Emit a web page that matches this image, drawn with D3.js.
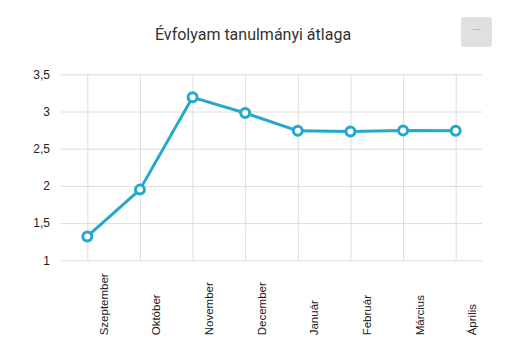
<!DOCTYPE html>
<html><head><meta charset="utf-8">
<script src="https://cdn.jsdelivr.net/npm/d3@7"></script>
<style>body{margin:0;background:#fff}svg{display:block;font-family:Roboto,"Noto Sans",sans-serif}</style>
</head><body><svg id="c" width="506" height="358"></svg>
<script>
const categories = ["Szeptember","Október","November","December","Január","Február","Március","Április"];
const values = [1.32, 1.95, 3.19, 2.98, 2.74, 2.73, 2.745, 2.74];
const yTicks = [1, 1.5, 2, 2.5, 3, 3.5];
const yTickLabels = ["1","1,5","2","2,5","3","3,5"];
const title = "Évfolyam tanulmányi átlaga";

const svg = d3.select("#c");
const L = 61, R = 482, T = 74.3, B = 260.3;
const x = d3.scalePoint().domain(categories).range([L, R]).padding(0.5);
const y = d3.scaleLinear().domain([1, 3.5]).range([B, T]);

svg.append("text").attr("x", 253).attr("y", 40).attr("text-anchor", "middle")
  .attr("font-size", 16).attr("fill", "#333").text(title);

const btn = svg.append("g");
btn.append("rect").attr("x", 461).attr("y", 17).attr("width", 31).attr("height", 30).attr("rx", 3).attr("fill", "#e0e0e0");
btn.append("text").attr("x", 476.5).attr("y", 34).attr("text-anchor", "middle").attr("font-size", 10).attr("fill", "#888").text("···");

const tickFont = "'Liberation Sans',Arial,sans-serif";
const yAxis = svg.append("g").attr("transform", `translate(${L},0)`)
  .call(d3.axisLeft(y).tickValues(yTicks).tickFormat((d,i) => yTickLabels[i]).tickSize(-(R - L)).tickPadding(11));
yAxis.select(".domain").remove();
yAxis.selectAll("line").attr("stroke", "#dcdcdc");
yAxis.selectAll("text").attr("font-size", 12).attr("fill", "#222").attr("font-family", tickFont);

const xAxis = svg.append("g").attr("transform", `translate(0,${B})`)
  .call(d3.axisBottom(x).tickSize(-(B - T)));
xAxis.select(".domain").remove();
xAxis.selectAll("line").attr("stroke", "#dcdcdc");
xAxis.selectAll("text").attr("font-size", 11.5).attr("fill", "#222").attr("font-family", tickFont)
  .attr("text-anchor", "start").attr("transform", "translate(20,0) rotate(-90)")
  .attr("x", -75).attr("y", 0).attr("dy", "0");

const line = d3.line().x((d,i) => x(categories[i])).y(d => y(d));
svg.append("path").datum(values).attr("d", line).attr("fill", "none")
  .attr("stroke", "#25a8cd").attr("stroke-width", 3).attr("stroke-linejoin", "round");
svg.selectAll("circle.pt").data(values).join("circle").attr("class", "pt")
  .attr("cx", (d,i) => x(categories[i])).attr("cy", d => y(d)).attr("r", 4.5)
  .attr("fill", "#fff").attr("stroke", "#25a8cd").attr("stroke-width", 3);
</script></body></html>
